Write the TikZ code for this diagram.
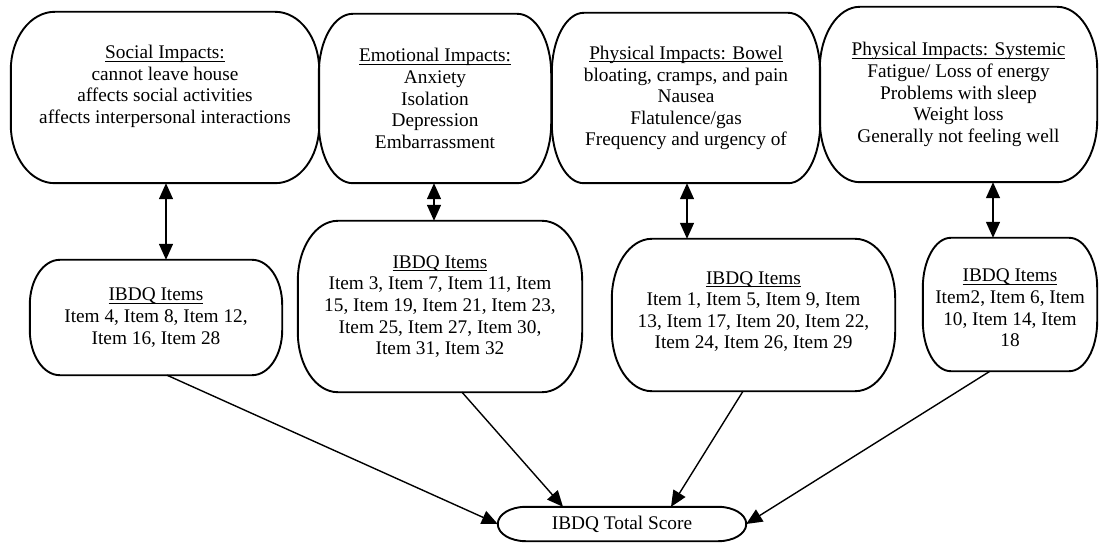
\documentclass[tikz,border=0pt]{standalone}
\usepackage{fontspec}
\setmainfont{Liberation Serif}
\usetikzlibrary{calc,arrows.meta}
\newcommand\ulin[1]{\leavevmode\sbox0{#1}\rlap{\usebox0}\rule[-2.6pt]{\wd0}{0.8pt}}
\newcommand\pillpath[3]{%
  \draw[outl] ($(#1.north west)+(#2,0)$) -- ($(#1.north east)+(-#2,0)$)
    arc[start angle=90, end angle=0, x radius=#2pt, y radius=#3pt]
    -- ($(#1.south east)+(0,#3)$)
    arc[start angle=0, end angle=-90, x radius=#2pt, y radius=#3pt]
    -- ($(#1.south west)+(#2,0)$)
    arc[start angle=270, end angle=180, x radius=#2pt, y radius=#3pt]
    -- ($(#1.north west)+(0,-#3)$)
    arc[start angle=180, end angle=90, x radius=#2pt, y radius=#3pt] -- cycle;}
\begin{document}
\begin{tikzpicture}[x=1pt,y=1pt,
  box/.style={draw=none, inner sep=0pt, align=center, font=\fontsize{19.3}{21.6}\selectfont},
  outl/.style={line width=1.9pt, line join=round},
  link/.style={line width=1.4pt, -{Triangle[width=14pt,length=16pt]}},
  dbl/.style={line width=1.4pt, {Triangle[width=14pt,length=16pt]}-{Triangle[width=14pt,length=16pt]}}]
\useasboundingbox (0,0) rectangle (1102,544);
% top row
\node[box, minimum width=308pt, minimum height=171pt,
  label={[box,yshift=11pt]center:{\ulin{Social Impacts:}\\cannot leave house\\affects social activities\\affects interpersonal interactions}}] (soc) at (165,446.5) {};
\node[box, minimum width=232pt, minimum height=169pt] (emo) at (435,445.5)
  {\ulin{Emotional Impacts:}\\Anxiety\\Isolation\\Depression\\Embarrassment};
\node[box, minimum width=268pt, minimum height=170pt] (bow) at (686,446)
  {\ulin{Physical Impacts: Bowel}\\bloating, cramps, and pain\\Nausea\\Flatulence/gas\\Frequency and urgency of};
\node[box, minimum width=277pt, minimum height=175pt] (sys) at (958.5,449.5)
  {\ulin{Physical Impacts: Systemic}\\Fatigue/ Loss of energy\\Problems with sleep\\Weight loss\\Generally not feeling well};
% item row
\node[box, minimum width=252pt, minimum height=115pt] (i1) at (156,226.5)
  {\ulin{IBDQ Items}\\Item 4, Item 8, Item 12,\\Item 16, Item 28};
\node[box, minimum width=284pt, minimum height=171pt] (i2) at (440,237.5)
  {\ulin{IBDQ Items}\\Item 3, Item 7, Item 11, Item\\15, Item 19, Item 21, Item 23,\\Item 25, Item 27, Item 30,\\Item 31, Item 32};
\node[box, minimum width=283pt, minimum height=152pt,
  label={[box,yshift=3.5pt]center:{\ulin{IBDQ Items}\\Item 1, Item 5, Item 9, Item\\13, Item 17, Item 20, Item 22,\\Item 24, Item 26, Item 29}}] (i3) at (753.5,229) {};
\node[box, minimum width=174pt, minimum height=133pt,
  label={[box,yshift=-3.5pt]center:{\ulin{IBDQ Items}\\Item2, Item 6, Item\\10, Item 14, Item\\18}}] (i4) at (1010,239.5) {};
% total
\node[box, minimum width=248pt, minimum height=34pt] (tot) at (622,20) {IBDQ Total Score};
% outlines
\pillpath{soc}{44}{58}
\pillpath{emo}{34}{60}
\pillpath{bow}{32}{60}
\pillpath{sys}{40}{62}
\pillpath{i1}{30}{45}
\pillpath{i2}{40}{60}
\pillpath{i3}{40}{60}
\pillpath{i4}{28}{50}
\pillpath{tot}{28}{17}
% double arrows
\draw[dbl] ([xshift=1pt]soc.south) -- ([xshift=1pt]soc.south |- i1.north);
\draw[dbl] ([xshift=-1pt]emo.south) -- ([xshift=-1pt]emo.south |- i2.north);
\draw[dbl] ([xshift=1pt]bow.south) -- ([xshift=1pt]bow.south |- i3.north);
\draw[dbl] ([xshift=34.5pt]sys.south) -- ([xshift=34.5pt]sys.south |- i4.north);
% arrows to total
\draw[link] ([xshift=11pt]i1.south) -- (tot.west);
\draw[link] ([xshift=22pt]i2.south) -- ([xshift=-59pt]tot.north);
\draw[link] ([xshift=-10.5pt]i3.south) -- ([xshift=49pt]tot.north);
\draw[link] ([xshift=-20pt]i4.south) -- (tot.east);
\end{tikzpicture}
\end{document}
